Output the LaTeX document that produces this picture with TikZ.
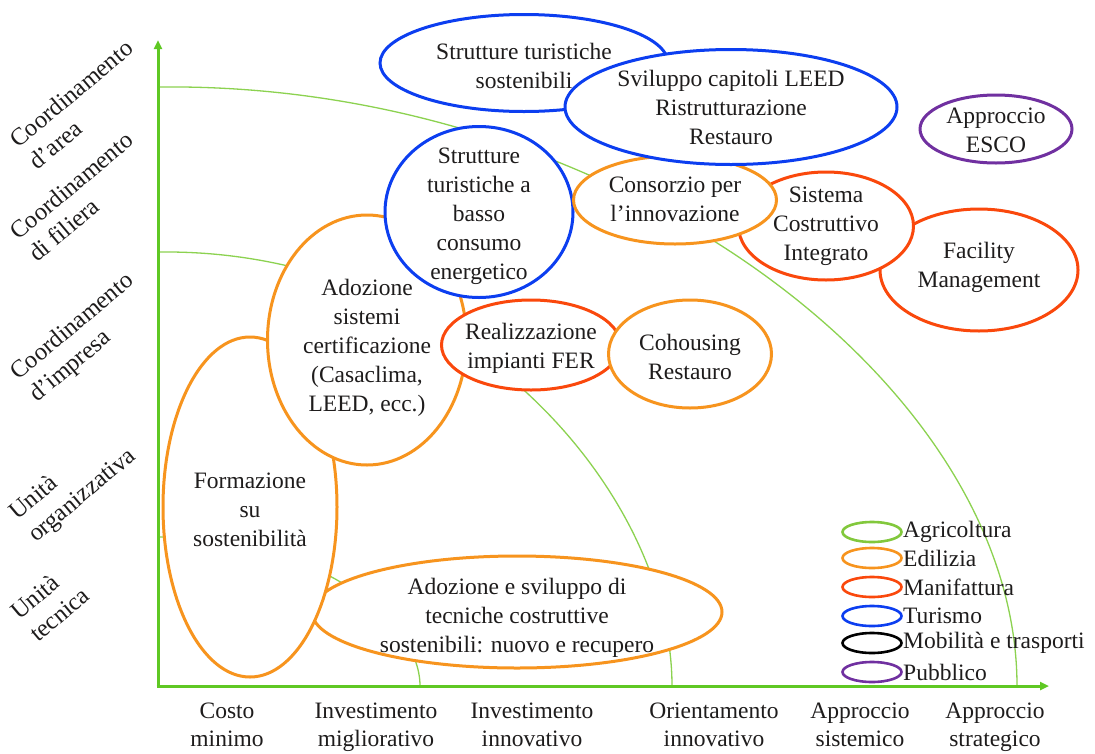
\documentclass[tikz,border=0pt]{standalone}
\usepackage{fontspec}
\setmainfont{Liberation Serif}
\usetikzlibrary{shapes.geometric,arrows.meta}

\definecolor{inkc}{RGB}{30,28,28}
\definecolor{axisgreen}{RGB}{95,200,35}
\definecolor{curvegreen}{RGB}{140,210,80}
\definecolor{agri}{RGB}{130,200,60}
\definecolor{edil}{RGB}{247,148,30}
\definecolor{manif}{RGB}{250,72,12}
\definecolor{turi}{RGB}{12,62,240}
\definecolor{mobil}{RGB}{0,0,0}
\definecolor{pubbl}{RGB}{112,48,160}

\tikzset{
  ell/.style={ellipse, draw=#1, line width=3pt, fill=white, inner sep=0pt},
  txt/.style={text=inkc, align=center, inner sep=0pt,
              font=\fontsize{23.5}{29}\selectfont},
  axislabel/.style={text=inkc, align=center, inner sep=0pt, anchor=north,
              font=\fontsize{23.5}{28}\selectfont},
  sidelabel/.style={text=inkc, inner sep=0pt, rotate=40, anchor=base west,
              font=\fontsize{24.5}{28}\selectfont},
  legell/.style={ellipse, draw=#1, line width=2.6pt, inner sep=0pt,
              minimum width=59pt, minimum height=20pt},
  legtxt/.style={text=inkc, inner sep=0pt, anchor=west,
              font=\fontsize{23.5}{28}\selectfont},
  curve/.style={draw=curvegreen, line width=1.3pt},
  axis/.style={draw=axisgreen, line width=3pt,
              -{Triangle[length=9pt,width=8pt]}}
}

\begin{document}
\begin{tikzpicture}[x=1pt,y=-1pt]
\useasboundingbox (0,0) rectangle (1095,753);
\fill[white] (0,0) rectangle (1095,753);

% frame points of the chart
\coordinate (O) at (158,686);
\coordinate (ytop) at (158,40);
\coordinate (xend) at (1049,686);

% level curves
\coordinate (c1s) at (160,87);   \coordinate (c1e) at (1017,686);
\coordinate (c2s) at (160,252);  \coordinate (c2e) at (672,686);
\coordinate (c3s) at (160,537);  \coordinate (c3e) at (420,686);
\draw[curve] (c1s) .. controls (610,82) and (1017,380) .. (c1e);
\draw[curve] (c2s) .. controls (460,249) and (672,490) .. (c2e);
\draw[curve] (c3s) .. controls (304,535) and (420,615) .. (c3e);

% axes
\draw[axis] (O) -- (ytop);
\draw[axis] ([xshift=-1.5pt]O) -- (xend);

% vertical axis labels
\node[sidelabel] (ya1) at (18,149) {Coordinamento};
\node[sidelabel] (ya2) at (37,171) {d’area};
\node[sidelabel] (yb1) at (18,241) {Coordinamento};
\node[sidelabel] (yb2) at (37,263) {di filiera};
\node[sidelabel] (yc1) at (18,381) {Coordinamento};
\node[sidelabel] (yc2) at (37,403) {d’impresa};
\node[sidelabel] (yd1) at (17,521) {Unità};
\node[sidelabel] (yd2) at (36,543) {organizzativa};
\node[sidelabel] (ye1) at (19,621) {Unità};
\node[sidelabel] (ye2) at (38,643) {tecnica};

% horizontal axis labels
\node[axislabel] (xa) at (227,703) {Costo\\minimo};
\node[axislabel] (xb) at (376,703) {Investimento\\migliorativo};
\node[axislabel] (xc) at (532,703) {Investimento\\innovativo};
\node[axislabel] (xd) at (714,703) {Orientamento\\innovativo};
\node[axislabel] (xe) at (860,703) {Approccio\\sistemico};
\node[axislabel] (xf) at (995,703) {Approccio\\strategico};

% initiatives
\node[ell=edil, minimum width=410pt, minimum height=112pt] (tecn) at (517,612) {};
\node[txt] (tecnt) at (517,618) {Adozione e sviluppo di\\tecniche costruttive\\sostenibili: nuovo e recupero};

\node[ell=edil, minimum width=174pt, minimum height=340pt] (form) at (250,507) {};
\node[txt] (formt) at (250,510) {Formazione\\su\\sostenibilità};

\node[ell=edil, minimum width=199pt, minimum height=250pt] (cert) at (367,340) {};
\node[txt] (certt) at (367,348) {Adozione\\sistemi\\certificazione\\(Casaclima,\\LEED, ecc.)};

\node[ell=turi, minimum width=188pt, minimum height=171pt] (basso) at (479,212) {};
\node[txt] (bassot) at (479,216) {Strutture\\turistiche a\\basso\\consumo\\energetico};

\node[ell=manif, minimum width=179pt, minimum height=90pt] (fer) at (531,345) {};
\node[txt] (fert) at (531,348) {Realizzazione\\impianti FER};

\node[ell=edil, minimum width=163pt, minimum height=108pt] (coho) at (690,354) {};
\node[txt] (cohot) at (690,357) {Cohousing\\Restauro};

\node[ell=manif, minimum width=198pt, minimum height=122pt] (facil) at (979,270) {};
\node[txt] (facilt) at (979,267) {Facility\\Management};

\node[ell=manif, minimum width=175pt, minimum height=108pt] (sist) at (826,226) {};
\node[txt] (sistt) at (826,226) {Sistema\\Costruttivo\\Integrato};

\node[ell=edil, minimum width=203pt, minimum height=88pt] (cons) at (675,200) {};
\node[txt] (const) at (675,199) {Consorzio per\\l’innovazione};

\node[ell=turi, minimum width=288pt, minimum height=97pt] (sost) at (524,63) {};
\node[txt] (sostt) at (524,66) {Strutture turistiche\\sostenibili};

\node[ell=turi, minimum width=332pt, minimum height=115pt] (leed) at (731,107) {};
\node[txt] (leedt) at (731,107) {Sviluppo capitoli LEED\\Ristrutturazione\\Restauro};

\node[ell=pubbl, minimum width=152pt, minimum height=68pt] (esco) at (996,129) {};
\node[txt] (escot) at (996,130) {Approccio\\ESCO};

% legend
\node[legell=agri]  (lg1) at (872,532) {};
\node[legell=edil]  (lg2) at (872,558) {};
\node[legell=manif] (lg3) at (872,587) {};
\node[legell=turi]  (lg4) at (872,616) {};
\node[legell=mobil] (lg5) at (872,643) {};
\node[legell=pubbl] (lg6) at (872,672) {};
\node[legtxt] (lt1) at (903,532) {Agricoltura};
\node[legtxt] (lt2) at (903,558) {Edilizia};
\node[legtxt] (lt3) at (903,587) {Manifattura};
\node[legtxt] (lt4) at (903,616) {Turismo};
\node[legtxt] (lt5) at (903,643) {Mobilità e trasporti};
\node[legtxt] (lt6) at (903,672) {Pubblico};
\end{tikzpicture}
\end{document}
